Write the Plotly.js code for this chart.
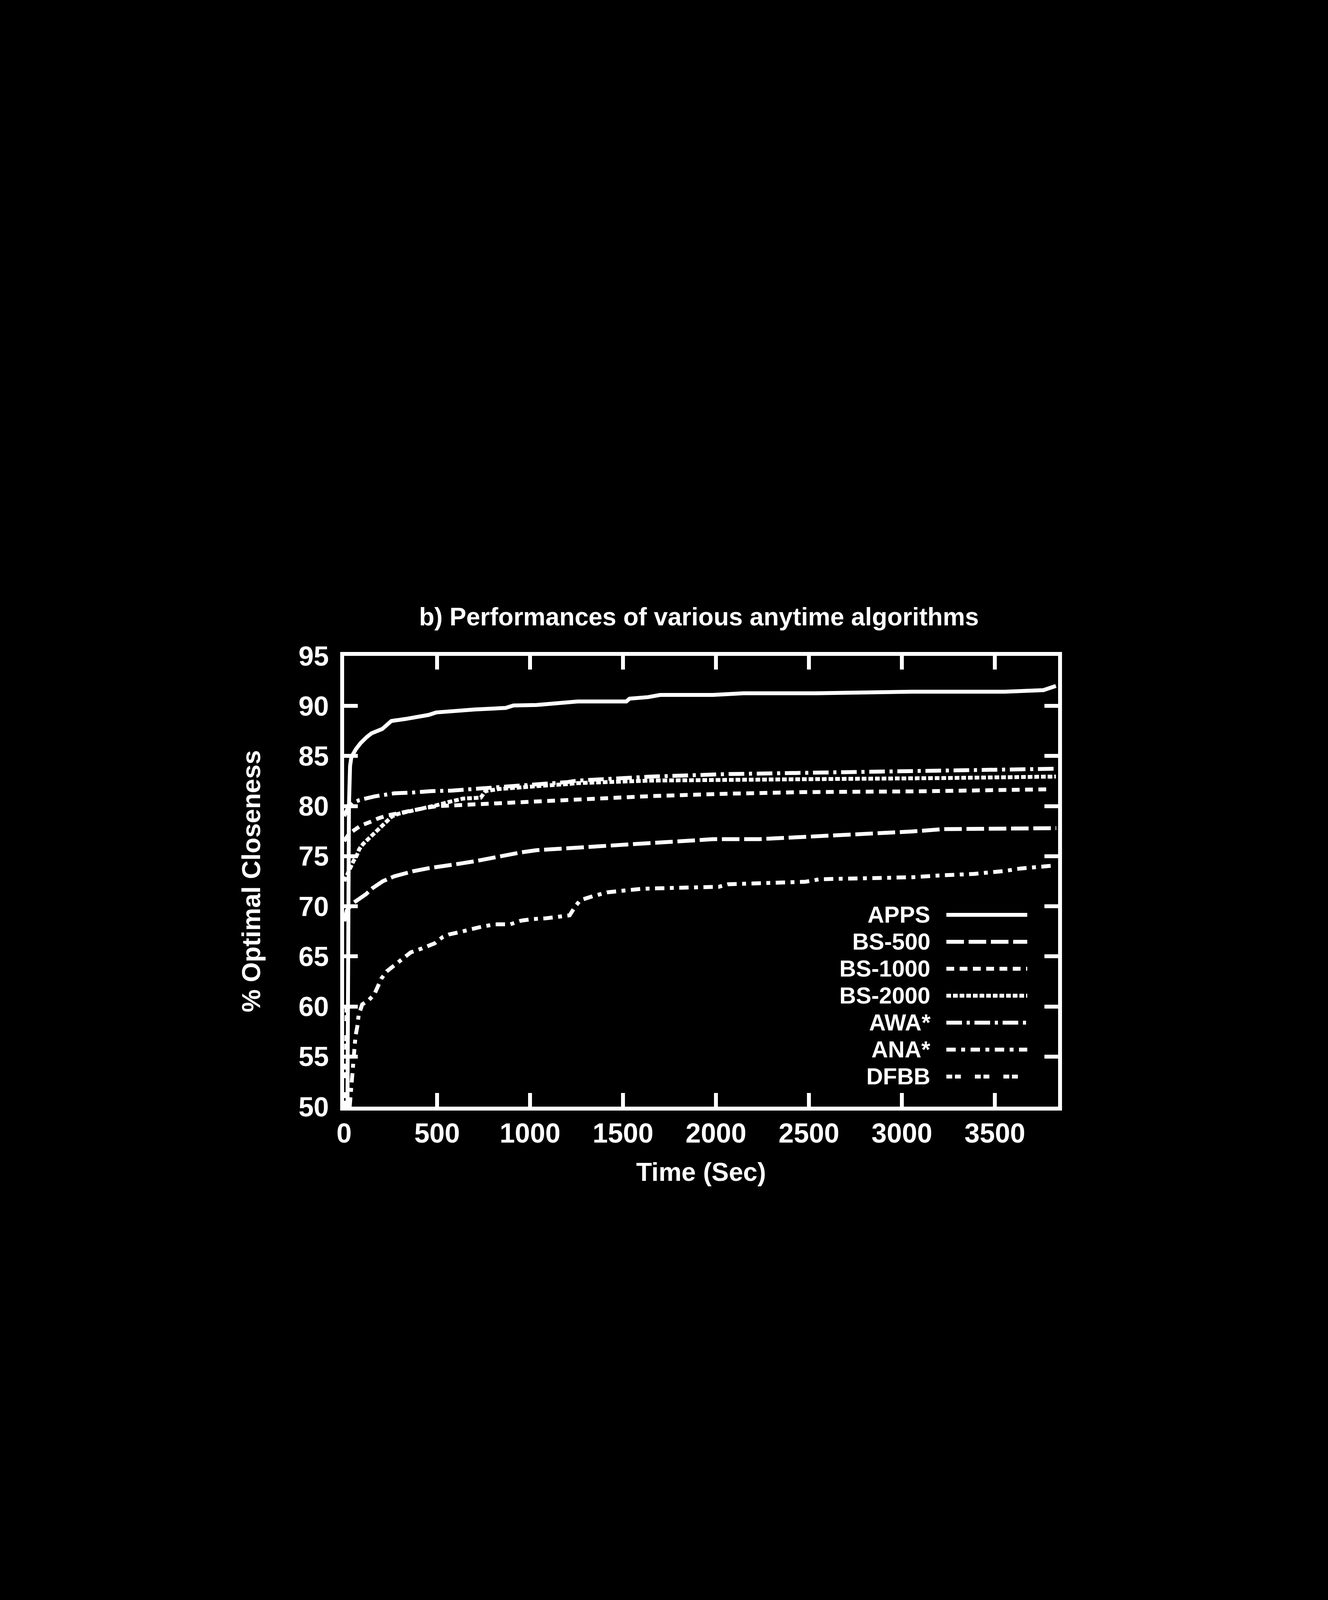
<!DOCTYPE html>
<html>
<head>
<meta charset="utf-8">
<script src="https://cdn.plot.ly/plotly-3.0.1.min.js"></script>
<style>
  html, body { margin: 0; padding: 0; background: #000; }
  #chart { width: 3400px; height: 4678px; }
</style>
</head>
<body>
<div id="chart"></div>
<script>
// ---------------- data ----------------
const chartTitle = 'b) Performances of various anytime algorithms';
const xTitle = 'Time (Sec)';
const yTitle = '% Optimal Closeness';
const xTickVals = [0, 500, 1000, 1500, 2000, 2500, 3000, 3500];
const yTickVals = [50, 55, 60, 65, 70, 75, 80, 85, 90, 95];
const seriesNames = ['APPS', 'BS-500', 'BS-1000', 'BS-2000', 'AWA*', 'ANA*', 'DFBB'];

const tApps = [18, 22, 26, 32, 39, 64, 89, 122, 147, 205, 254, 330, 404, 454, 495, 578, 703, 869, 911, 1035, 1184, 1257, 1518, 1535, 1635, 1700, 1983, 2149, 2537, 3056, 3554, 3761, 3828];
const vApps = [50, 70, 80, 84, 84.9, 85.7, 86.3, 86.9, 87.26, 87.7, 88.5, 88.7, 88.9, 89.1, 89.35, 89.5, 89.65, 89.8, 90.05, 90.1, 90.35, 90.45, 90.45, 90.73, 90.88, 91.1, 91.1, 91.27, 91.27, 91.42, 91.42, 91.58, 92.0];

const tBs500 = [0, 15, 47, 82, 117, 152, 208, 271, 313, 371, 454, 537, 620, 703, 786, 869, 952, 1035, 1118, 1257, 1485, 1734, 1983, 2232, 2398, 2537, 2814, 3056, 3221, 3554, 3830];
const vBs500 = [68.5, 69.6, 70.3, 70.7, 71.2, 71.8, 72.5, 73.0, 73.25, 73.5, 73.8, 74.0, 74.25, 74.5, 74.8, 75.07, 75.38, 75.6, 75.7, 75.82, 76.16, 76.47, 76.7, 76.7, 76.85, 77.0, 77.24, 77.47, 77.7, 77.8, 77.8];

const tBs1000 = [0, 25, 54, 89, 138, 187, 239, 348, 432, 502, 620, 703, 869, 1035, 1201, 1261, 1651, 2065, 2480, 3056, 3387, 3800];
const vBs1000 = [76.5, 77.2, 77.6, 78.05, 78.4, 78.8, 79.1, 79.55, 79.8, 80.0, 80.1, 80.2, 80.34, 80.42, 80.57, 80.7, 81.0, 81.24, 81.4, 81.47, 81.55, 81.68];

const tBs2000 = [0, 30, 50, 68, 82, 103, 131, 152, 187, 215, 243, 257, 292, 362, 432, 500, 560, 640, 735, 760, 830, 952, 1077, 1201, 1257, 1651, 2065, 2398, 2558, 3221, 3828];
const vBs2000 = [72.5, 73.8, 74.5, 75.07, 75.72, 76.24, 76.76, 77.15, 77.67, 78.32, 78.71, 78.97, 79.23, 79.49, 79.8, 80.1, 80.4, 80.75, 80.85, 81.5, 81.7, 81.9, 82.05, 82.2, 82.3, 82.55, 82.65, 82.7, 82.7, 82.8, 82.95];

const tAwa = [0, 20, 47, 80, 163, 271, 371, 470, 578, 661, 752, 827, 952, 1077, 1201, 1257, 1651, 2065, 2398, 2558, 3056, 3554, 3828];
const vAwa = [79.0, 79.8, 80.3, 80.59, 80.97, 81.28, 81.36, 81.5, 81.55, 81.66, 81.73, 81.85, 82.0, 82.2, 82.4, 82.55, 82.95, 83.2, 83.3, 83.4, 83.5, 83.65, 83.73];

const tAna = [30, 45, 57, 61, 71, 78, 97, 131, 162, 187, 201, 229, 264, 313, 358, 420, 487, 528, 566, 616, 678, 748, 815, 894, 952, 1011, 1085, 1151, 1213, 1240, 1269, 1336, 1418, 1601, 1817, 2016, 2065, 2315, 2481, 2558, 2814, 3056, 3221, 3387, 3554, 3637, 3820];
const vAna = [50, 53.5, 56.0, 57.0, 58.0, 59.1, 60.2, 60.6, 61.2, 62.1, 62.8, 63.5, 64.0, 64.7, 65.4, 65.8, 66.3, 66.9, 67.2, 67.4, 67.7, 68.0, 68.2, 68.2, 68.57, 68.72, 68.8, 69.0, 69.1, 69.9, 70.6, 71.0, 71.4, 71.75, 71.85, 71.95, 72.2, 72.35, 72.45, 72.7, 72.8, 72.9, 73.1, 73.23, 73.53, 73.77, 74.07];

const tDfbb = [8, 10, 12, 14];
const vDfbb = [50, 54, 58, 61];

const seriesT = [tApps, tBs500, tBs1000, tBs2000, tAwa, tAna, tDfbb];
const seriesV = [vApps, vBs500, vBs1000, vBs2000, vAwa, vAna, vDfbb];

// ---------------- styling ----------------
const FONT = 'Liberation Sans, Arial, Helvetica, sans-serif';
const WHITE = '#ffffff';
const dashes = ['solid', '45px,12px', '20px,14px', '12px,5px', '40px,12px,8px,12px', '24px,14px,10px,14px', '15px,7px,15px,36px'];
const LINE_W = 10;

const traces = seriesNames.map((name, i) => ({
  type: 'scatter',
  mode: 'lines',
  name: name,
  x: seriesT[i],
  y: seriesV[i],
  line: { color: WHITE, width: LINE_W, dash: dashes[i] },
  showlegend: false,
  hoverinfo: 'skip'
}));

// custom gnuplot-style key: right-aligned names with line samples to their right
const keyTextX = 0.8217, keySampleX0 = 0.8435, keySampleX1 = 0.9568;
const keyTop = 0.4255, keyStep = 0.0598;
const shapes = [];
const annotations = [];
seriesNames.forEach((name, i) => {
  const yy = keyTop - i * keyStep;
  shapes.push({
    type: 'line', xref: 'paper', yref: 'paper',
    x0: keySampleX0, x1: keySampleX1, y0: yy, y1: yy,
    line: { color: WHITE, width: LINE_W, dash: dashes[i] }
  });
  annotations.push({
    xref: 'paper', yref: 'paper', x: keyTextX, y: yy,
    xanchor: 'right', yanchor: 'middle', showarrow: false, borderpad: 0,
    text: name, font: { family: FONT, size: 59, color: WHITE, weight: 'bold' }
  });
});

const axisCommon = {
  ticks: 'inside', ticklen: 35, tickwidth: 10, tickcolor: WHITE,
  showline: true, linewidth: 10, linecolor: WHITE, mirror: 'ticks',
  showgrid: false, zeroline: false, automargin: false,
  tickfont: { family: FONT, size: 70, color: WHITE, weight: 'bold' }
};

const layout = {
  width: 3400, height: 4678,
  paper_bgcolor: '#000000', plot_bgcolor: '#000000',
  margin: { l: 881, r: 691, t: 1679, b: 1845, pad: 0 },
  showlegend: false,
  title: {
    text: chartTitle,
    font: { family: FONT, size: 64, color: WHITE, weight: 'bold' },
    xref: 'paper', x: 0.497, xanchor: 'center',
    yref: 'container', y: 0.6625, yanchor: 'middle'
  },
  xaxis: Object.assign({}, axisCommon, {
    range: [0, 3840], tickmode: 'array', tickvals: xTickVals,
    ticklabelstandoff: -2,
    title: { text: xTitle, standoff: 42, font: { family: FONT, size: 66, color: WHITE, weight: 'bold' } }
  }),
  yaxis: Object.assign({}, axisCommon, {
    range: [50, 95], tickmode: 'array', tickvals: yTickVals,
    ticklabelstandoff: 15,
    title: { text: yTitle, standoff: 80, font: { family: FONT, size: 66, color: WHITE, weight: 'bold' } }
  }),
  shapes: shapes,
  annotations: annotations
};

Plotly.newPlot('chart', traces, layout, { displayModeBar: false, staticPlot: true });
</script>
</body>
</html>
